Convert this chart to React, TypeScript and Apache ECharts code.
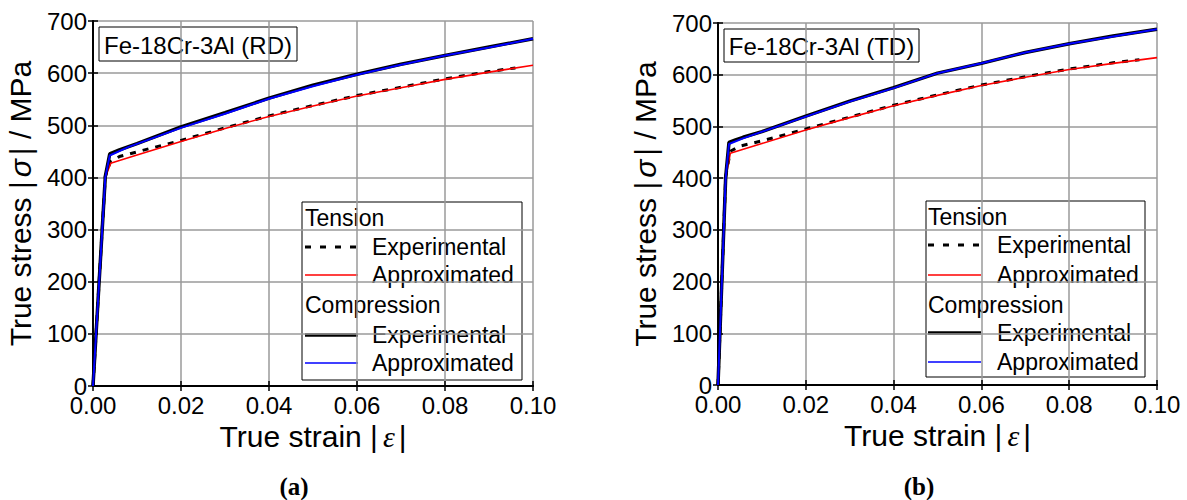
import React, { useEffect, useRef } from "react";
import * as echarts from "echarts";

// Axis ranges
const strainMin = 0;
const strainMax = 0.1;
const strainStep = 0.02;
const stressMin = 0;
const stressMax = 700;
const stressStep = 100;

// Panel titles / labels
const panelTitles = ["Fe-18Cr-3Al (RD)", "Fe-18Cr-3Al (TD)"];
const panelTags = ["(a)", "(b)"];
const legendHeads = ["Tension", "Compression"];
const legendItems = ["Experimental", "Approximated"];

// ---- RD data ----
const rdTenExpStrain = [0, 0.0028, 0.004, 0.006, 0.01, 0.02, 0.03, 0.04, 0.05, 0.06, 0.07, 0.08, 0.09, 0.096];
const rdTenExpStress = [0, 402, 431, 440, 449, 471, 495, 518, 538, 557, 573, 589, 603, 610];
const rdTenAppStrain = [0, 0.0028, 0.004, 0.01, 0.02, 0.03, 0.04, 0.05, 0.06, 0.07, 0.08, 0.09, 0.1];
const rdTenAppStress = [0, 400, 427, 443, 469, 494, 517, 537, 556, 572, 588, 602, 615];
const rdComExpStrain = [0, 0.0028, 0.0038, 0.006, 0.01, 0.02, 0.03, 0.04, 0.05, 0.06, 0.07, 0.08, 0.09, 0.1];
const rdComExpStress = [0, 402, 445, 453, 465, 497, 524, 552, 577, 598, 617, 634, 650, 666];
const rdComAppStrain = [0, 0.0028, 0.0038, 0.008, 0.02, 0.03, 0.04, 0.05, 0.06, 0.07, 0.08, 0.09, 0.1];
const rdComAppStress = [0, 400, 442, 458, 495, 522, 551, 575, 597, 616, 634, 649, 666];

// ---- TD data ----
const tdTenExpStrain = [0, 0.00175, 0.0028, 0.005, 0.01, 0.02, 0.03, 0.04, 0.05, 0.06, 0.07, 0.08, 0.09, 0.096];
const tdTenExpStress = [0, 402, 452, 462, 472, 495, 518, 541, 561, 580, 596, 611, 623, 629];
const tdTenAppStrain = [0, 0.00175, 0.0028, 0.01, 0.02, 0.03, 0.04, 0.05, 0.06, 0.07, 0.08, 0.09, 0.1];
const tdTenAppStress = [0, 400, 448, 467, 493, 517, 540, 560, 579, 595, 610, 622, 633];
const tdComExpStrain = [0, 0.00175, 0.0025, 0.004, 0.0057, 0.01, 0.02, 0.03, 0.04, 0.05, 0.06, 0.07, 0.08, 0.09, 0.1];
const tdComExpStress = [0, 402, 469, 474, 479, 490, 520, 549, 575, 603, 622, 643, 660, 675, 688];
const tdComAppStrain = [0, 0.00175, 0.0025, 0.0057, 0.02, 0.03, 0.04, 0.05, 0.06, 0.07, 0.08, 0.09, 0.1];
const tdComAppStress = [0, 400, 466, 477, 519, 548, 574, 603, 622, 643, 660, 674, 688];

const zip = (xs: number[], ys: number[]) => xs.map((x, i) => [x, ys[i]]);

const FONT = "'Liberation Sans', Arial, sans-serif";
const SERIF = "'Liberation Serif', 'Times New Roman', serif";

export default function App() {
  const ref = useRef<HTMLDivElement>(null);
  useEffect(() => {
    if (!ref.current) return;
    const chart = echarts.init(ref.current, null, { renderer: "svg" });

    const grids = [
      { left: 93, top: 21, width: 440, height: 365 },
      { left: 718, top: 23, width: 439, height: 362 },
    ];

    const tickStyle = { show: true, inside: true, length: 5, lineStyle: { color: "#000", width: 1.5 } };
    const axisLineStyle = { show: true, lineStyle: { color: "#000", width: 1.8 } };

    const xAxes: any[] = [];
    const yAxes: any[] = [];
    grids.forEach((g, i) => {
      xAxes.push({
        type: "value", gridIndex: i, position: "bottom",
        min: strainMin, max: strainMax, interval: strainStep,
        axisLine: axisLineStyle, axisTick: tickStyle,
        axisLabel: { color: "#000", fontSize: 24, fontFamily: FONT, margin: 7, formatter: (v: number) => v.toFixed(2) },
        splitLine: { show: true, lineStyle: { color: "#9a9a9a", width: 1.5 } },
        name: "True strain |{e|ε}|", nameLocation: "middle", nameGap: 35,
        nameTextStyle: {
          color: "#000", fontSize: 30, fontFamily: FONT,
          rich: { e: { fontSize: 30, fontStyle: "italic", fontFamily: SERIF, color: "#000", padding: [0, 4, 0, 5] } },
        },
      });
      xAxes.push({
        type: "value", gridIndex: i, position: "top",
        min: strainMin, max: strainMax, interval: strainStep,
        axisLine: axisLineStyle, axisTick: tickStyle,
        axisLabel: { show: false }, splitLine: { show: false },
      });
      yAxes.push({
        type: "value", gridIndex: i, position: "left",
        min: stressMin, max: stressMax, interval: stressStep,
        axisLine: axisLineStyle, axisTick: tickStyle,
        axisLabel: { color: "#000", fontSize: 24, fontFamily: FONT, margin: 6 },
        splitLine: { show: true, lineStyle: { color: "#9a9a9a", width: 1.5 } },
        name: "True stress |{s|σ}| / MPa", nameLocation: "middle", nameGap: 58,
        nameTextStyle: {
          color: "#000", fontSize: 30, fontFamily: FONT,
          rich: { s: { fontSize: 30, fontStyle: "italic", fontFamily: FONT, color: "#000", padding: [0, 4, 0, 4] } },
        },
      });
      yAxes.push({
        type: "value", gridIndex: i, position: "right",
        min: stressMin, max: stressMax, interval: stressStep,
        axisLine: axisLineStyle, axisTick: tickStyle,
        axisLabel: { show: false }, splitLine: { show: false },
      });
    });

    const panels = [
      { tenExp: zip(rdTenExpStrain, rdTenExpStress), tenApp: zip(rdTenAppStrain, rdTenAppStress), comExp: zip(rdComExpStrain, rdComExpStress), comApp: zip(rdComAppStrain, rdComAppStress) },
      { tenExp: zip(tdTenExpStrain, tdTenExpStress), tenApp: zip(tdTenAppStrain, tdTenAppStress), comExp: zip(tdComExpStrain, tdComExpStress), comApp: zip(tdComAppStrain, tdComAppStress) },
    ];

    const series: any[] = [];
    panels.forEach((p, i) => {
      const base = { type: "line", xAxisIndex: 2 * i, yAxisIndex: 2 * i, showSymbol: false, symbol: "none", silent: true };
      series.push({ ...base, name: "Tension Experimental", data: p.tenExp, z: 2, lineStyle: { color: "#000", width: 3, type: [6, 7] } });
      series.push({ ...base, name: "Tension Approximated", data: p.tenApp, z: 3, lineStyle: { color: "#ff0000", width: 1.6 } });
      series.push({ ...base, name: "Compression Experimental", data: p.comExp, z: 4, lineStyle: { color: "#000", width: 3.5 } });
      series.push({ ...base, name: "Compression Approximated", data: p.comApp, z: 5, lineStyle: { color: "#0000ff", width: 2 } });
    });

    const legends = [
      { x: 302, y: 202, w: 220, h: 178, rows: [218, 247, 275, 305, 335, 363], lx: 305, tx: 372 },
      { x: 926, y: 201, w: 219, h: 176, rows: [217, 245, 275, 305, 333, 362], lx: 928, tx: 997 },
    ];
    const titles = [
      { x: 99, y: 27, w: 198, h: 34 },
      { x: 724, y: 29, w: 195, h: 33 },
    ];
    const tags = [{ x: 294, y: 486 }, { x: 919, y: 486 }];

    const graphic: any[] = [];
    legends.forEach((L) => {
      const kids: any[] = [];
      kids.push({ type: "rect", shape: { x: L.x, y: L.y, width: L.w, height: L.h }, style: { fill: "#fff", stroke: "#000", lineWidth: 1 } });
      const txt = (x: number, y: number, s: string) => ({
        type: "text", x, y, style: { text: s, fontSize: 23, fontFamily: FONT, fill: "#000", verticalAlign: "middle", align: "left" },
      });
      const ln = (y: number, stroke: string, lw: number, dash?: number[]) => ({
        type: "line", shape: { x1: L.lx, y1: y, x2: L.lx + 53, y2: y },
        style: { stroke, lineWidth: lw, lineDash: dash },
      });
      kids.push(txt(L.lx, L.rows[0], legendHeads[0]));
      kids.push(ln(L.rows[1], "#000", 3, [6, 9]));
      kids.push(txt(L.tx, L.rows[1], legendItems[0]));
      kids.push(ln(L.rows[2], "#ff0000", 1.6));
      kids.push(txt(L.tx, L.rows[2], legendItems[1]));
      kids.push(txt(L.lx, L.rows[3], legendHeads[1]));
      kids.push(ln(L.rows[4], "#000", 3.5));
      kids.push(txt(L.tx, L.rows[4], legendItems[0]));
      kids.push(ln(L.rows[5], "#0000ff", 1.6));
      kids.push(txt(L.tx, L.rows[5], legendItems[1]));
      graphic.push({ type: "group", z: 100, children: kids });
    });
    titles.forEach((T, i) => {
      graphic.push({
        type: "group", z: 100, children: [
          { type: "rect", shape: { x: T.x, y: T.y, width: T.w, height: T.h }, style: { fill: "#fff", stroke: "#000", lineWidth: 1 } },
          { type: "text", x: T.x + T.w / 2, y: T.y + T.h / 2 + 1, style: { text: panelTitles[i], fontSize: 24, fontFamily: FONT, fill: "#000", align: "center", verticalAlign: "middle" } },
        ],
      });
    });
    tags.forEach((t, i) => {
      graphic.push({
        type: "text", x: t.x, y: t.y, z: 100,
        style: { text: panelTags[i], fontSize: 25, fontWeight: "bold", fontFamily: SERIF, fill: "#000", align: "center", verticalAlign: "middle" },
      });
    });

    chart.setOption({
      animation: false,
      backgroundColor: "#fff",
      grid: grids.map((g) => ({ ...g, containLabel: false })),
      xAxis: xAxes,
      yAxis: yAxes,
      series,
      graphic,
    });
    return () => chart.dispose();
  }, []);
  return <div ref={ref} style={{ position: "fixed", left: 0, top: 0, width: 1187, height: 500 }} />;
}
